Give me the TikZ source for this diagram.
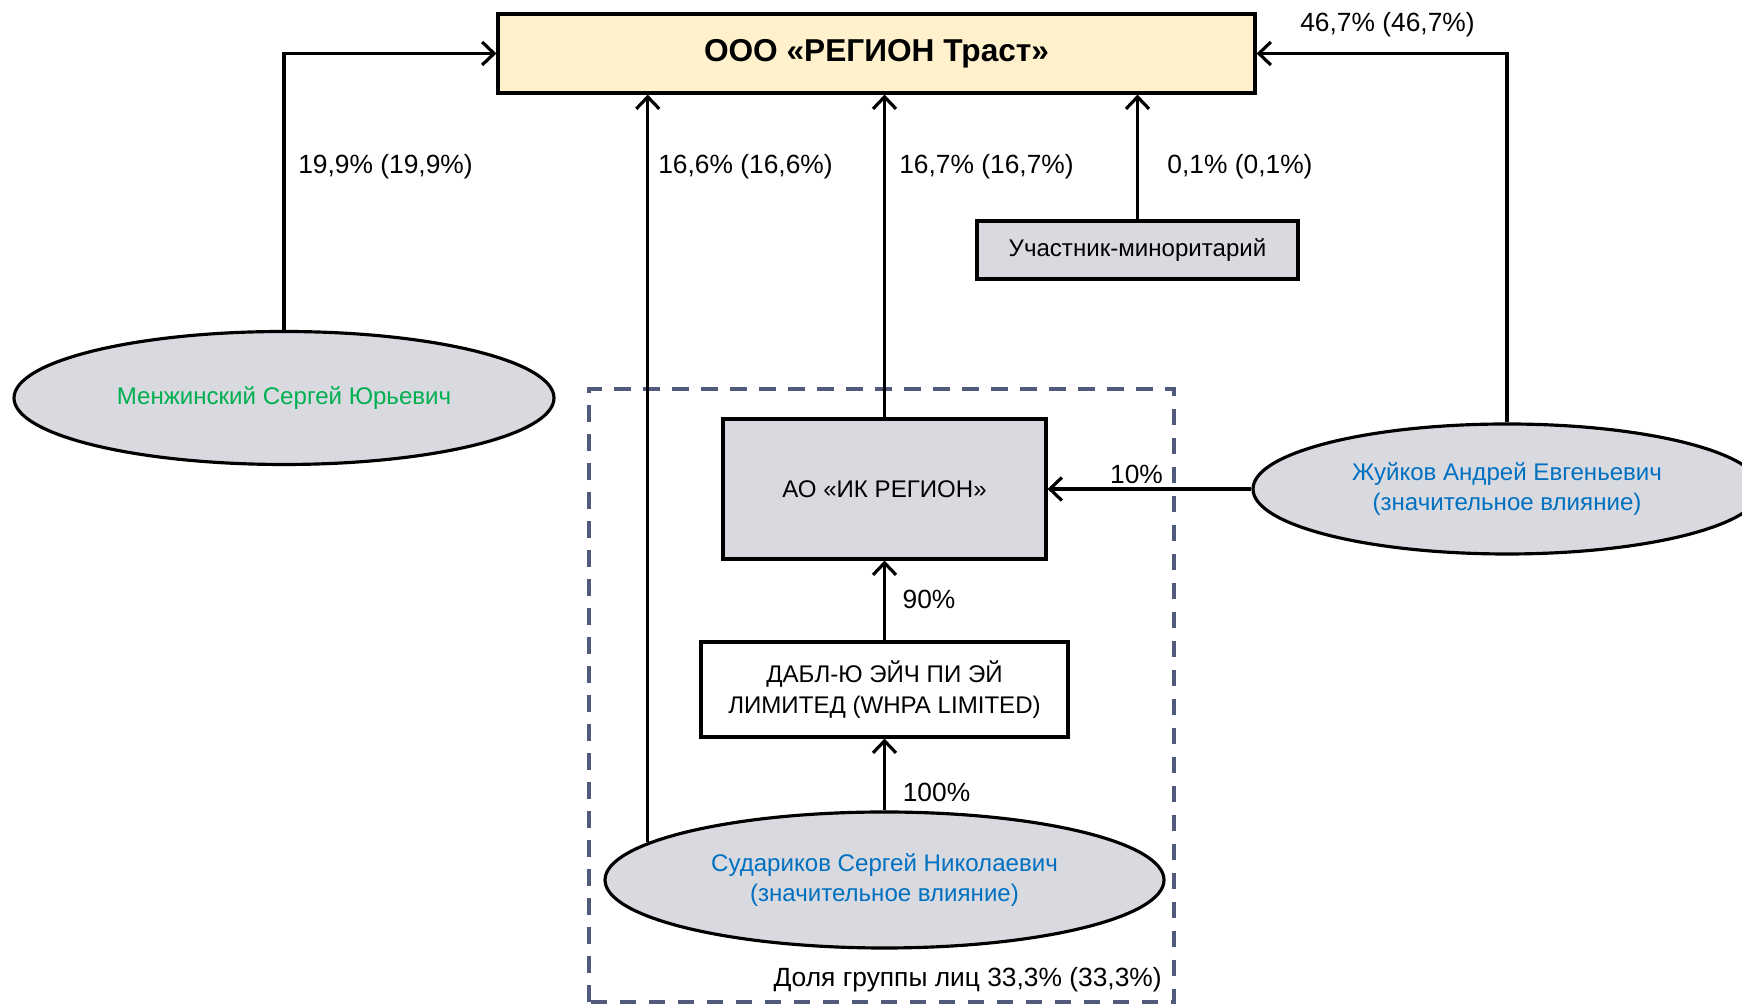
\documentclass[tikz,border=0pt]{standalone}
\usepackage{fontspec}
\setmainfont{Liberation Sans}
\definecolor{myCream}{RGB}{255,241,204}
\definecolor{myGray}{RGB}{217,217,224}
\definecolor{myGreen}{RGB}{0,176,80}
\definecolor{myBlue}{RGB}{0,112,192}
\definecolor{mySlate}{RGB}{82,90,124}
\usepackage{tikz}
\usetikzlibrary{arrows.meta,positioning,shapes.geometric}

\tikzset{
    box/.style={draw, line width=1.8pt, rectangle, align=center, inner sep=0pt, font=\fontsize{13.7}{17.5}\selectfont},
    person/.style={draw, line width=1.8pt, ellipse, fill=myGray, align=center, inner sep=0pt, font=\fontsize{13.7}{17.5}\selectfont},
    link/.style={line width=1.8pt, -{Straight Barb[length=2.4mm,width=4.6mm]}},
    lbl/.style={inner sep=0pt, font=\fontsize{15}{18}\selectfont}
}

\begin{document}
\begin{tikzpicture}
                \useasboundingbox (0,0) rectangle (34.84,20.1);
                \clip (0,0) rectangle (34.84,20.1);

                \node[box, fill=myCream, minimum width=15.14cm, minimum height=1.58cm, font=\bfseries\fontsize{18}{22}\selectfont] (trust) at (17.53,19.03) {ООО «РЕГИОН Траст»};
                \node[person, minimum width=10.8cm, minimum height=2.66cm, text=myGreen] (menzh) at (5.68,12.14) {Менжинский Сергей Юрьевич};
                \node[box, fill=myGray, minimum width=6.42cm, minimum height=1.16cm] (minor) at (22.75,15.1) {Участник-миноритарий};
                \node[box, fill=myGray, minimum width=6.46cm, minimum height=2.8cm] (ikreg) at (17.69,10.32) {АО «ИК РЕГИОН»};
                \node[box, fill=white, minimum width=7.34cm, minimum height=1.9cm] (whpa) at (17.69,6.31) {ДАБЛ-Ю ЭЙЧ ПИ ЭЙ\\ЛИМИТЕД (WHPA LIMITED)};
                \node[person, minimum width=11.18cm, minimum height=2.72cm, text=myBlue] (sudar) at (17.69,2.5) {Судариков Сергей Николаевич\\(значительное влияние)};
                \node[person, minimum width=10.16cm, minimum height=2.6cm, text=myBlue] (zhuik) at (30.14,10.32) {Жуйков Андрей Евгеньевич\\(значительное влияние)};

                % group of persons
                \draw[mySlate, line width=1.8pt, dash pattern=on 9.5pt off 7pt] (11.78,0.06) rectangle (23.48,12.32);
                \node[lbl, anchor=east] (group) at (23.24,0.5) {Доля группы лиц 33,3\% (33,3\%)};

                \draw[link] (menzh.north) |- (trust.west);
                \draw[link] (sudar.171) -- (sudar.171 |- trust.south);
                \draw[link] (ikreg.north) -- (ikreg.north |- trust.south);
                \draw[link] (minor.north) -- (minor.north |- trust.south);
                \draw[link] (zhuik.north) |- (trust.east);
                \draw[link] (zhuik.west) -- (ikreg.east);
                \draw[link] (whpa.north) -- (ikreg.south);
                \draw[link] (sudar.north) -- (whpa.south);

                \node[lbl] (p199) at (7.71,16.77) {19,9\% (19,9\%)};
                \node[lbl] (p166) at (14.91,16.77) {16,6\% (16,6\%)};
                \node[lbl] (p167) at (19.73,16.77) {16,7\% (16,7\%)};
                \node[lbl] (p01) at (24.80,16.77) {0,1\% (0,1\%)};
                \node[lbl] (p467) at (27.75,19.61) {46,7\% (46,7\%)};
                \node[lbl] (p10) at (22.73,10.61) {10\%};
                \node[lbl] (p90) at (18.58,8.12) {90\%};
                \node[lbl] (p100) at (18.73,4.26) {100\%};
            \end{tikzpicture}
\end{document}
